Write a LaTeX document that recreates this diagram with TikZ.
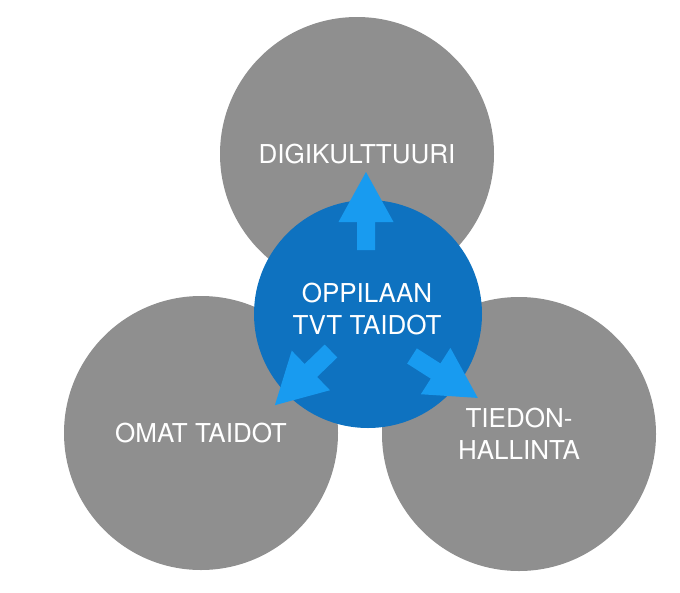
\documentclass[tikz,border=0pt]{standalone}
\usepackage{fontspec}
\setmainfont{TeX Gyre Heros}
\definecolor{circgray}{RGB}{143,143,143}
\definecolor{centerblue}{RGB}{14,114,192}
\definecolor{arrowblue}{RGB}{24,155,240}
\begin{document}
\begin{tikzpicture}[x=1pt,y=-1pt,
  graycirc/.style={circle,fill=circgray,minimum size=274pt,inner sep=0pt,
    text=white,font=\fontsize{26}{32}\selectfont,align=center},
  bluecirc/.style={circle,fill=centerblue,minimum size=228pt,inner sep=0pt,
    text=white,font=\fontsize{26}{32}\selectfont,align=center},
  blockarrow/.style={fill=arrowblue}]
\useasboundingbox (0,0) rectangle (680,592);
\fill[white] (0,0) rectangle (680,592);
\node[graycirc] (digi) at (357,154) {DIGIKULTTUURI};
\node[graycirc] (omat) at (201,433) {OMAT TAIDOT};
\node[graycirc] (tieto) at (519,434) {TIEDON-\\HALLINTA};
\node[bluecirc] (center) at (368,314) {};
\node[text=white,font=\fontsize{26}{32}\selectfont,align=center] (ctext) at (367,309) {OPPILAAN\\TVT TAIDOT};
\foreach \nm/\px/\py/\ang in {up/366/250/90, dl/331/351/224, dr/412/356/-32.5}{
  \begin{scope}[shift={(\px,\py)},rotate=\ang]
    \fill[blockarrow] (0,-9) -- (28,-9) -- (28,-27.5) -- (78,0) -- (28,27.5) -- (28,9) -- (0,9) -- cycle;
    \coordinate (arr-\nm) at (0,0);
  \end{scope}
}
\end{tikzpicture}
\end{document}
